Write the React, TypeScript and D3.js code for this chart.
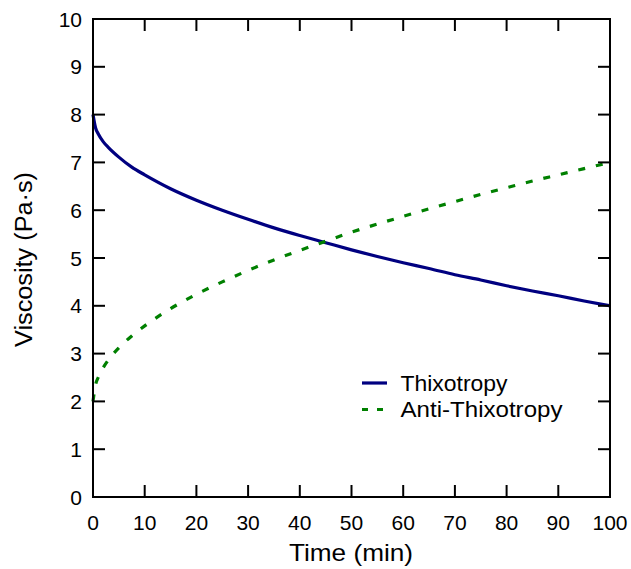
import React, { useEffect, useRef } from "react";
import * as d3 from "d3";

// values
const timeMin = [0, 0.5, 1, 2, 3, 5, 7.5, 10, 15, 20, 25, 30, 35, 40, 45, 50, 55, 60, 65, 70, 75, 80, 85, 90, 95, 100];
const thixotropy = [8.0, 7.72, 7.6, 7.43, 7.31, 7.11, 6.9, 6.74, 6.45, 6.21, 6.0, 5.81, 5.63, 5.47, 5.32, 5.17, 5.03, 4.9, 4.78, 4.65, 4.54, 4.42, 4.31, 4.21, 4.1, 4.0];
const antiThixotropy = [2.0, 2.35, 2.5, 2.71, 2.87, 3.12, 3.37, 3.58, 3.94, 4.24, 4.5, 4.74, 4.96, 5.16, 5.35, 5.54, 5.71, 5.87, 6.03, 6.18, 6.33, 6.47, 6.61, 6.74, 6.87, 7.0];
const xTicks = [0, 10, 20, 30, 40, 50, 60, 70, 80, 90, 100];
const yTicks = [0, 1, 2, 3, 4, 5, 6, 7, 8, 9, 10];
const seriesNames = ["Thixotropy", "Anti-Thixotropy"];

export default function App() {
  const ref = useRef<SVGSVGElement>(null);

  useEffect(() => {
    const svg = d3.select(ref.current);
    svg.selectAll("*").remove();

    const width = 631;
    const height = 569;
    const margin = { top: 19, right: 21, bottom: 72, left: 93 };
    const font = "'Liberation Sans', Arial, sans-serif";

    svg.attr("width", width).attr("height", height);

    const x = d3.scaleLinear().domain([0, 100]).range([margin.left, width - margin.right]);
    const y = d3.scaleLinear().domain([0, 10]).range([height - margin.bottom, margin.top]);

    const [x0, x1] = x.range();
    const [y0, y1] = y.range();
    const tickLen = 12;

    const line = d3
      .line<number>()
      .x((_, i) => x(timeMin[i]))
      .y((d) => y(d))
      .curve(d3.curveMonotoneX);

    svg.append("path")
      .attr("d", line(thixotropy))
      .attr("fill", "none")
      .attr("stroke", "#000080")
      .attr("stroke-width", 3.2);

    svg.append("path")
      .attr("d", line(antiThixotropy))
      .attr("fill", "none")
      .attr("stroke", "#008000")
      .attr("stroke-width", 3.2)
      .attr("stroke-dasharray", "7,11");

    // frame + ticks on all sides
    const axes = svg.append("g").attr("stroke", "#000").attr("stroke-width", 2);
    axes.append("rect")
      .attr("x", x0).attr("y", y1)
      .attr("width", x1 - x0).attr("height", y0 - y1)
      .attr("fill", "none");

    xTicks.forEach((t) => {
      axes.append("line").attr("x1", x(t)).attr("x2", x(t)).attr("y1", y0).attr("y2", y0 - tickLen);
      axes.append("line").attr("x1", x(t)).attr("x2", x(t)).attr("y1", y1).attr("y2", y1 + tickLen);
    });
    yTicks.forEach((t) => {
      axes.append("line").attr("x1", x0).attr("x2", x0 + tickLen).attr("y1", y(t)).attr("y2", y(t));
      axes.append("line").attr("x1", x1).attr("x2", x1 - tickLen).attr("y1", y(t)).attr("y2", y(t));
    });

    svg.append("g")
      .selectAll("text")
      .data(xTicks)
      .join("text")
      .attr("x", (d) => x(d))
      .attr("y", y0 + 33)
      .attr("text-anchor", "middle")
      .attr("font-family", font)
      .attr("font-size", 21)
      .text((d) => d);

    svg.append("g")
      .selectAll("text")
      .data(yTicks)
      .join("text")
      .attr("x", x0 - 11)
      .attr("y", (d) => y(d) + 7.5)
      .attr("text-anchor", "end")
      .attr("font-family", font)
      .attr("font-size", 21)
      .text((d) => d);

    svg.append("text")
      .attr("x", 289)
      .attr("y", 561)
      .attr("font-family", font)
      .attr("font-size", 24)
      .attr("textLength", 124)
      .attr("lengthAdjust", "spacingAndGlyphs")
      .text("Time (min)");

    svg.append("text")
      .attr("transform", `translate(32,347) rotate(-90)`)
      .attr("font-family", font)
      .attr("font-size", 23.5)
      .attr("textLength", 175)
      .attr("lengthAdjust", "spacingAndGlyphs")
      .text("Viscosity (Pa·s)");

    // legend
    const legend = svg.append("g");
    const legendWidths = [107, 162];
    seriesNames.forEach((name, i) => {
      const ly = 383 + i * 26.5;
      legend.append("line")
        .attr("x1", 362).attr("x2", 387)
        .attr("y1", ly).attr("y2", ly)
        .attr("stroke", i === 0 ? "#000080" : "#008000")
        .attr("stroke-width", 3.2)
        .attr("stroke-dasharray", i === 0 ? null : "6,9");
      legend.append("text")
        .attr("x", 400.5)
        .attr("y", ly + 7.5)
        .attr("font-family", font)
        .attr("font-size", 21.5)
        .attr("textLength", legendWidths[i])
        .attr("lengthAdjust", "spacingAndGlyphs")
        .text(name);
    });
  }, []);

  return <svg ref={ref} style={{ position: "absolute", left: 0, top: 0 }}></svg>;
}
